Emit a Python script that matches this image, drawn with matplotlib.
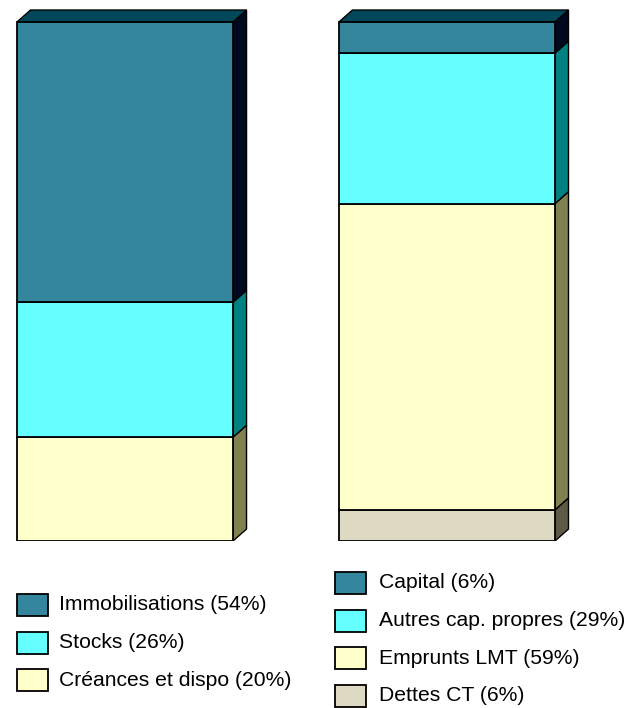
import matplotlib.pyplot as plt
from matplotlib.patches import Polygon, Rectangle

plt.rcParams['font.family'] = ['Liberation Sans', 'DejaVu Sans']

# Données : actif (barre gauche) et passif (barre droite), du bas vers le haut
actifLabels = ['Créances et dispo', 'Stocks', 'Immobilisations']
actifValues = [20, 26, 54]
actifColors = ['#FFFFCC', '#66FFFF', '#33869C']

passifLabels = ['Dettes CT', 'Emprunts LMT', 'Autres cap. propres', 'Capital']
passifValues = [6, 59, 29, 6]
passifColors = ['#DDD9C3', '#FFFFCC', '#66FFFF', '#33869C']

# Couleurs des faces latérales / du dessus (effet 3D)
sideColors = {'#33869C': '#000A1E', '#66FFFF': '#008080',
              '#FFFFCC': '#808050', '#DDD9C3': '#5E5A45'}
topColors = {'#33869C': '#03475A'}

fig = plt.figure(figsize=(6.41, 7.08), dpi=100)
ax = fig.add_axes([0.0192, 0.2359, 0.879, 0.7624])
ax.set_xlim(-0.35, 1.4)
ax.set_ylim(0, 104)
ax.axis('off')

width = 0.671
dx, dy = 0.042, 2.3


def drawBar(xc, values, colors):
    x0, x1 = xc - width / 2, xc + width / 2
    bottom = 0
    for v, c in zip(values, colors):
        top = bottom + v
        ax.add_patch(Rectangle((x0, bottom), width, v, facecolor=c,
                               edgecolor='black', lw=1.3, zorder=2))
        side = [(x1, bottom), (x1 + dx, bottom + dy), (x1 + dx, top + dy), (x1, top)]
        ax.add_patch(Polygon(side, facecolor=sideColors[c], edgecolor='black',
                             lw=1.0, zorder=1))
        bottom = top
    c = colors[-1]
    topFace = [(x0, bottom), (x0 + dx, bottom + dy), (x1 + dx, bottom + dy), (x1, bottom)]
    ax.add_patch(Polygon(topFace, facecolor=topColors.get(c, c), edgecolor='black',
                         lw=1.0, zorder=1))


drawBar(0, actifValues, actifColors)
drawBar(1, passifValues, passifColors)


# Légendes (dessinées à la main, en pixels de la figure)
def drawLegend(xBox, yTop, textGap, labels, values, colors):
    W, H = 641, 708
    for i, (lab, v, c) in enumerate(zip(labels, values, colors)):
        y = yTop + i * 37.5
        fig.patches.append(Rectangle((xBox / W, 1 - (y + 22) / H), 31 / W, 22 / H,
                                     facecolor=c, edgecolor='black', lw=1.3,
                                     transform=fig.transFigure, figure=fig))
        fig.text((xBox + textGap) / W, 1 - (y + 11) / H, f'{lab} ({v}%)',
                 fontsize=15.2, va='center', ha='left')


drawLegend(17, 594, 42, actifLabels[::-1], actifValues[::-1], actifColors[::-1])
drawLegend(335, 572, 44, passifLabels[::-1], passifValues[::-1], passifColors[::-1])

fig.savefig('out.png', dpi=100)
